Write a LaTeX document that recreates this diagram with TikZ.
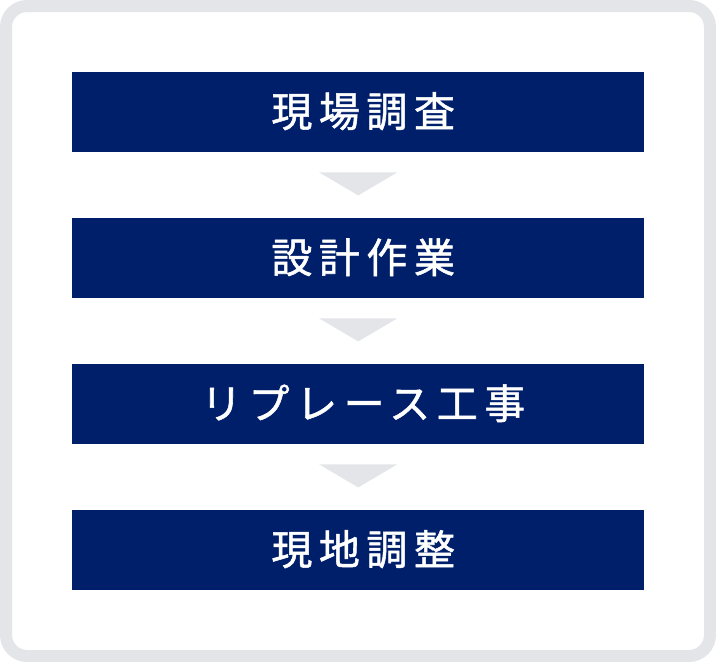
\documentclass[tikz,border=0pt]{standalone}
\usepackage{fontspec}
\usetikzlibrary{calc}
\newfontfamily\cjk[LetterSpace=16,FakeBold=1.3]{Noto Sans CJK JP}
\definecolor{navy}{RGB}{0,31,107}
\definecolor{framegray}{RGB}{228,229,233}
\tikzset{
  stepbox/.style={fill=navy, draw=none, minimum width=572pt, minimum height=80pt, inner sep=0pt, anchor=north west},
  steplabel/.style={text=white, font=\cjk\fontsize{41}{41}\selectfont, inner sep=0pt},
  arrowtri/.style={fill=framegray, draw=none}
}
\begin{document}
\begin{tikzpicture}[x=1pt,y=-1pt]
\useasboundingbox (0,0) rectangle (716,662);
\draw[framegray, line width=12pt, rounded corners=21pt, fill=white] (6,6) rectangle (710,656);
\foreach \n/\y/\t in {a/72/現場調査, b/218/設計作業, c/364/リプレース工事, d/510/現地調整}{
  \node[stepbox] (\n) at (72,\y) {};
  \node[steplabel] (\n t) at ([shift={(5,-1)}]\n.center) {\t};
}
\foreach \p in {a, b, c}{
  \fill[arrowtri] ([shift={(-39,20)}]\p.south) -- ([shift={(39,20)}]\p.south) -- ([shift={(0,43)}]\p.south) -- cycle;
}
\end{tikzpicture}
\end{document}
